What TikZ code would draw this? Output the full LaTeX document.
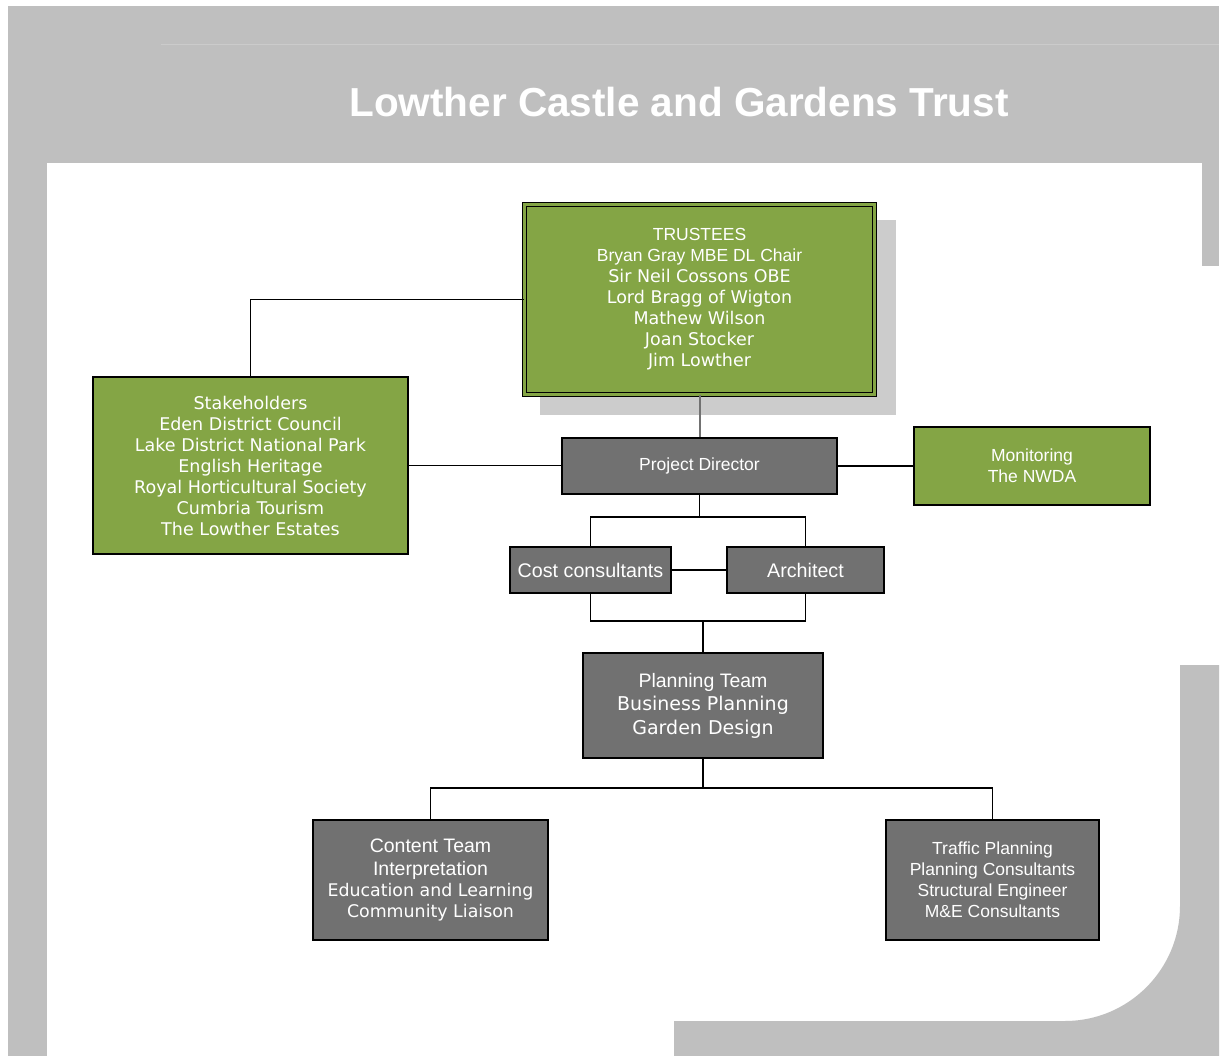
\documentclass[tikz,border=0pt]{standalone}
\usepackage{fontspec}
\setmainfont{Liberation Sans}
\newfontfamily\verd{DejaVu Sans}
\newcommand{\vtxt}[1]{{\verd #1}}
\newcommand{\vtxtsize}[2]{{\verd\fontsize{#1}{21}\selectfont #2}}
\definecolor{bggray}{HTML}{BFBFBF}
\definecolor{tgreen}{HTML}{84A545}
\definecolor{boxgray}{HTML}{717171}
\definecolor{shadowgray}{HTML}{CCCCCC}
\definecolor{faint}{HTML}{CBCBCB}
\begin{document}
\begin{tikzpicture}[x=1pt,y=-1pt,
  basebox/.style={draw=black, line width=1.3pt, text=white, align=center, inner sep=0pt,
    font=\fontsize{17.5}{21}\selectfont},
  greenbox/.style={basebox, fill=tgreen},
  greybox/.style={basebox, fill=boxgray},
  conn/.style={draw=black, line width=1.4pt},
  darkconn/.style={draw=boxgray, line width=2pt}]
\useasboundingbox (0,0) rectangle (1226,1056);
\fill[white] (0,0) rectangle (1226,1056);
% background frame
\fill[bggray] (8,6) rectangle (1219,163);
\fill[bggray] (8,163) rectangle (47,1056);
\fill[bggray] (1202,163) rectangle (1219,266);
\fill[bggray] (1180,665) -- (1219,665) -- (1219,1056) -- (674,1056) -- (674,1021) -- (1065,1021)
  .. controls (1128.5,1021) and (1180,969.5) .. (1180,906) -- cycle;
\draw[faint, line width=0.8pt] (161,44) -- (1219,44);
\node[text=white, font=\fontsize{40.5}{48}\selectfont\bfseries] (title) at (679,102) {Lowther Castle and Gardens Trust};
% shadow
\fill[shadowgray] (540,220) rectangle (896,415);
% boxes
\node[greenbox, draw=black, line width=1.2pt, double=tgreen, double distance=2.5pt,
  minimum width=350, minimum height=190] (trustees) at (699.5,299.5)
  {TRUSTEES\\Bryan Gray MBE DL Chair\\\vtxt{Sir Neil Cossons OBE}\\\vtxt{Lord Bragg of Wigton}\\\vtxt{Mathew Wilson}\\\vtxt{Joan Stocker}\\\vtxt{Jim Lowther}};
\node[greenbox, minimum width=315, minimum height=177] (stake) at (250.5,465.5)
  {\vtxt{Stakeholders}\\\vtxt{Eden District Council}\\\vtxt{Lake District National Park}\\\vtxt{English Heritage}\\\vtxt{Royal Horticultural Society}\\\vtxt{Cumbria Tourism}\\\vtxt{The Lowther Estates}};
\node[greybox, minimum width=275, minimum height=56] (pd) at (699.5,466) {Project Director};
\node[greenbox, minimum width=236, minimum height=78] (mon) at (1032,466) {Monitoring\\The NWDA};
\node[greybox, minimum width=161, minimum height=46, font=\fontsize{19.7}{23}\selectfont] (cost) at (590.5,570) {Cost consultants};
\node[greybox, minimum width=157, minimum height=46, font=\fontsize{19.7}{23}\selectfont] (arch) at (805.5,570) {Architect};
\node[greybox, minimum width=240, minimum height=105, font=\fontsize{19.5}{23.5}\selectfont] (plan) at (703,705.5)
  {Planning Team\\\vtxtsize{19}{Business Planning}\\\vtxtsize{19}{Garden Design}};
\node[greybox, minimum width=235, minimum height=120, font=\fontsize{19.5}{23}\selectfont] (content) at (430.5,880)
  {Content Team\\Interpretation\\[-1.5pt]\vtxtsize{17.4}{Education and Learning}\\[-2pt]\vtxtsize{17.4}{Community Liaison}};
\node[greybox, minimum width=213, minimum height=120] (traffic) at (992.5,880)
  {Traffic Planning\\Planning Consultants\\Structural Engineer\\M\&E Consultants};
% junction points
\coordinate (j1) at (699.5,517);
\coordinate (j2) at (703,621);
\coordinate (j3) at (703,788);
% connectors
\draw[conn] (trustees.west) -| (stake.north);
\draw[darkconn] (trustees.south) -- (pd.north);
\draw[conn] (stake.east) -- (stake.east -| pd.west);
\draw[conn] (pd.east) -- (mon.west);
\draw[conn] (pd.south) -- (j1);
\draw[conn] (cost.north) |- (j1) -| (arch.north);
\draw[conn] (cost.east) -- (arch.west);
\draw[conn] (cost.south) |- (j2) -| (arch.south);
\draw[conn] (j2) -- (plan.north);
\draw[conn] (plan.south) -- (j3);
\draw[conn] (content.north) |- (j3) -| (traffic.north);
\end{tikzpicture}
\end{document}
